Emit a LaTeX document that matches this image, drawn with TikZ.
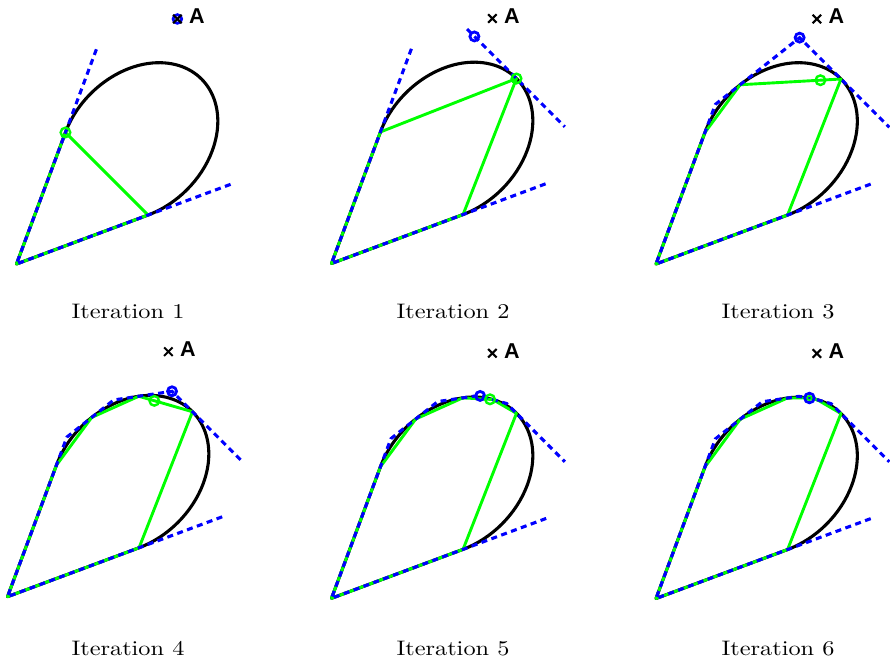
\documentclass[tikz,border=0pt]{standalone}
\usepackage{fontspec}
\newfontfamily\labelfont{Liberation Sans}
\usepackage{tikz}
\usetikzlibrary{shapes.misc}
\definecolor{mGreen}{RGB}{0,255,0}
\definecolor{mBlue}{RGB}{0,0,255}

\begin{document}
\begin{tikzpicture}[
  x=1pt, y=1pt,
  setcurve/.style={black, line width=3.1pt, line join=round},
  innerpoly/.style={mGreen, line width=2.9pt, line join=round},
  outerpoly/.style={mBlue, line width=3.1pt, dash pattern=on 6pt off 4.5pt},
  innerdot/.style={draw=mGreen, line width=2.4pt},
  outerdot/.style={draw=mBlue, line width=2.8pt},
  xmark/.style={cross out, draw=black, line width=2pt, minimum size=6.5pt,
                inner sep=0pt},
  alabel/.style={anchor=base west, inner sep=0pt,
                 font=\labelfont\bfseries\fontsize{21.5}{24}\selectfont},
  capt/.style={anchor=base, inner sep=0pt},
]
\useasboundingbox (0,0) rectangle (890,661);

% =========================================================================
% Geometry, in each panel's own frame: apex of the cone at (0,0), frame
% turned by 45 degrees.  Ellipse centre (\ecu,0), half axes \eca / \ecb;
% the two cone edges touch it at the parameter angles +-\tpa.
% =========================================================================
\def\ecu{173} \def\eca{88.6} \def\ecb{68} \def\tpa{120.8} \def\cext{1.632}

\coordinate (V1) at (16.5,397);
\coordinate (V2) at (331.5,397.5);
\coordinate (V3) at (656,397);
\coordinate (V4) at (7.5,64.3);
\coordinate (V5) at (331.5,62.7);
\coordinate (V6) at (656,62.5);

% ---- the set itself and the captions, same in every panel --------------
\foreach \k/\cx/\cy in {1/128/342, 2/453/342, 3/778/342,
                        4/128/6, 5/453/6, 6/778/6}{
  \begin{scope}[shift={(V\k)}, rotate=45]
    \draw[setcurve] (0,0) -- ({\ecu+\eca*cos(\tpa)},{\ecb*sin(\tpa)})
      arc[start angle=\tpa, end angle=-\tpa, x radius=\eca, y radius=\ecb]
      -- cycle;
  \end{scope}
  \node[capt] (cap\k) at (\cx,\cy) {\scalebox{2.43}[2.1]{Iteration \k}};
}

% ---- Iteration 1 --------------------------------------------------------
\begin{scope}[shift={(V1)}, rotate=45]
  \coordinate (T1) at ({\ecu+\eca*cos(\tpa)},{\ecb*sin(\tpa)});
  \draw[innerpoly] (0,0) \foreach \s in {\tpa,-\tpa}
    {-- ({\ecu+\eca*cos(\s)},{\ecb*sin(\s)})} -- cycle;
  \draw[outerpoly] ({\cext*(\ecu+\eca*cos(\tpa))},{\cext*\ecb*sin(\tpa)})
    -- (0,0) -- ({\cext*(\ecu+\eca*cos(\tpa))},{-\cext*\ecb*sin(\tpa)});
  \draw[innerdot] (T1) circle[radius=4.8];
  \draw[outerdot] (287,59.5) circle[radius=4.3];
\end{scope}

% ---- Iteration 2 --------------------------------------------------------
\begin{scope}[shift={(V2)}, rotate=45]
  \draw[innerpoly] (0,0) \foreach \s in {\tpa,0,-\tpa}
    {-- ({\ecu+\eca*cos(\s)},{\ecb*sin(\s)})} -- cycle;
  \draw[outerpoly] ({\cext*(\ecu+\eca*cos(\tpa))},{\cext*\ecb*sin(\tpa)})
    -- (0,0) -- ({\cext*(\ecu+\eca*cos(\tpa))},{-\cext*\ecb*sin(\tpa)});
  \draw[outerpoly] ({\ecu+\eca},70) -- ({\ecu+\eca},-68.4);
  \draw[innerdot] ({\ecu+\eca},0) circle[radius=4.8];
  \draw[outerdot] ({\ecu+\eca},59.5) circle[radius=4.5];
\end{scope}

% ---- Iteration 3 --------------------------------------------------------
\begin{scope}[shift={(V3)}, rotate=45]
  \draw[innerpoly] (0,0) \foreach \s in {\tpa,81.4,0,-\tpa}
    {-- ({\ecu+\eca*cos(\s)},{\ecb*sin(\s)})} -- cycle;
  \draw[outerpoly] ({\cext*(\ecu+\eca*cos(\tpa))},{-\cext*\ecb*sin(\tpa)})
    -- (0,0) \foreach \p/\q in {\tpa/81.4, 81.4/0}
    {-- ({\ecu+\eca*cos((\p+\q)/2)/cos((\p-\q)/2)},
        {\ecb*sin((\p+\q)/2)/cos((\p-\q)/2)})}
    -- ({\ecu+\eca},-68.4);
  \draw[innerdot] (246.2,13.7) circle[radius=4.8];
  \draw[outerdot] ({\ecu+\eca},58.5) circle[radius=4.5];
\end{scope}

% ---- Iteration 4 --------------------------------------------------------
\begin{scope}[shift={(V4)}, rotate=45]
  \draw[innerpoly] (0,0) \foreach \s in {\tpa,81.4,46,0,-\tpa}
    {-- ({\ecu+\eca*cos(\s)},{\ecb*sin(\s)})} -- cycle;
  \draw[outerpoly] ({\cext*(\ecu+\eca*cos(\tpa))},{-\cext*\ecb*sin(\tpa)})
    -- (0,0) \foreach \p/\q in {\tpa/81.4, 81.4/46, 46/0}
    {-- ({\ecu+\eca*cos((\p+\q)/2)/cos((\p-\q)/2)},
        {\ecb*sin((\p+\q)/2)/cos((\p-\q)/2)})}
    -- ({\ecu+\eca},-68.4);
  \draw[innerdot] (242.3,34.7) circle[radius=4.8];
  \draw[outerdot] ({\ecu+\eca},28.9) circle[radius=4.5];
\end{scope}

% ---- Iteration 5 --------------------------------------------------------
\begin{scope}[shift={(V5)}, rotate=45]
  \draw[innerpoly] (0,0) \foreach \s in {\tpa,81.4,46,23,0,-\tpa}
    {-- ({\ecu+\eca*cos(\s)},{\ecb*sin(\s)})} -- cycle;
  \draw[outerpoly] ({\cext*(\ecu+\eca*cos(\tpa))},{-\cext*\ecb*sin(\tpa)})
    -- (0,0) \foreach \p/\q in {\tpa/81.4, 81.4/46, 46/23, 23/0}
    {-- ({\ecu+\eca*cos((\p+\q)/2)/cos((\p-\q)/2)},
        {\ecb*sin((\p+\q)/2)/cos((\p-\q)/2)})}
    -- ({\ecu+\eca},-68.4);
  \draw[outerdot] (248.2,38.0) circle[radius=4.5];
  \draw[innerdot] (252.8,28.6) circle[radius=4.8];
\end{scope}

% ---- Iteration 6: both projections meet --------------------------------
\begin{scope}[shift={(V6)}, rotate=45]
  \draw[innerpoly] (0,0) \foreach \s in {\tpa,81.4,46,29.3,23,0,-\tpa}
    {-- ({\ecu+\eca*cos(\s)},{\ecb*sin(\s)})} -- cycle;
  \draw[outerpoly] ({\cext*(\ecu+\eca*cos(\tpa))},{-\cext*\ecb*sin(\tpa)})
    -- (0,0) \foreach \p/\q in {\tpa/81.4, 81.4/46, 46/29.3, 29.3/23, 23/0}
    {-- ({\ecu+\eca*cos((\p+\q)/2)/cos((\p-\q)/2)},
        {\ecb*sin((\p+\q)/2)/cos((\p-\q)/2)})}
    -- ({\ecu+\eca},-68.4);
  \coordinate (P6) at ({\ecu+\eca*cos(29.3)},{\ecb*sin(29.3)});
  \draw[outerdot] (P6) circle[radius=4.8];
  \draw[mGreen, line width=1.6pt] (P6) circle[radius=2.2];
\end{scope}

% ---- the point A, marked in every panel --------------------------------
\foreach \k in {1,...,6}{
  \begin{scope}[shift={(V\k)}, rotate=45]
    \coordinate (A\k) at (287,59.5);
  \end{scope}
  \node[xmark] (xm\k) at (A\k) {};
  \node[alabel] (lbl\k) at ([shift={(11.5,-5)}]A\k) {A};
}

\end{tikzpicture}
\end{document}
